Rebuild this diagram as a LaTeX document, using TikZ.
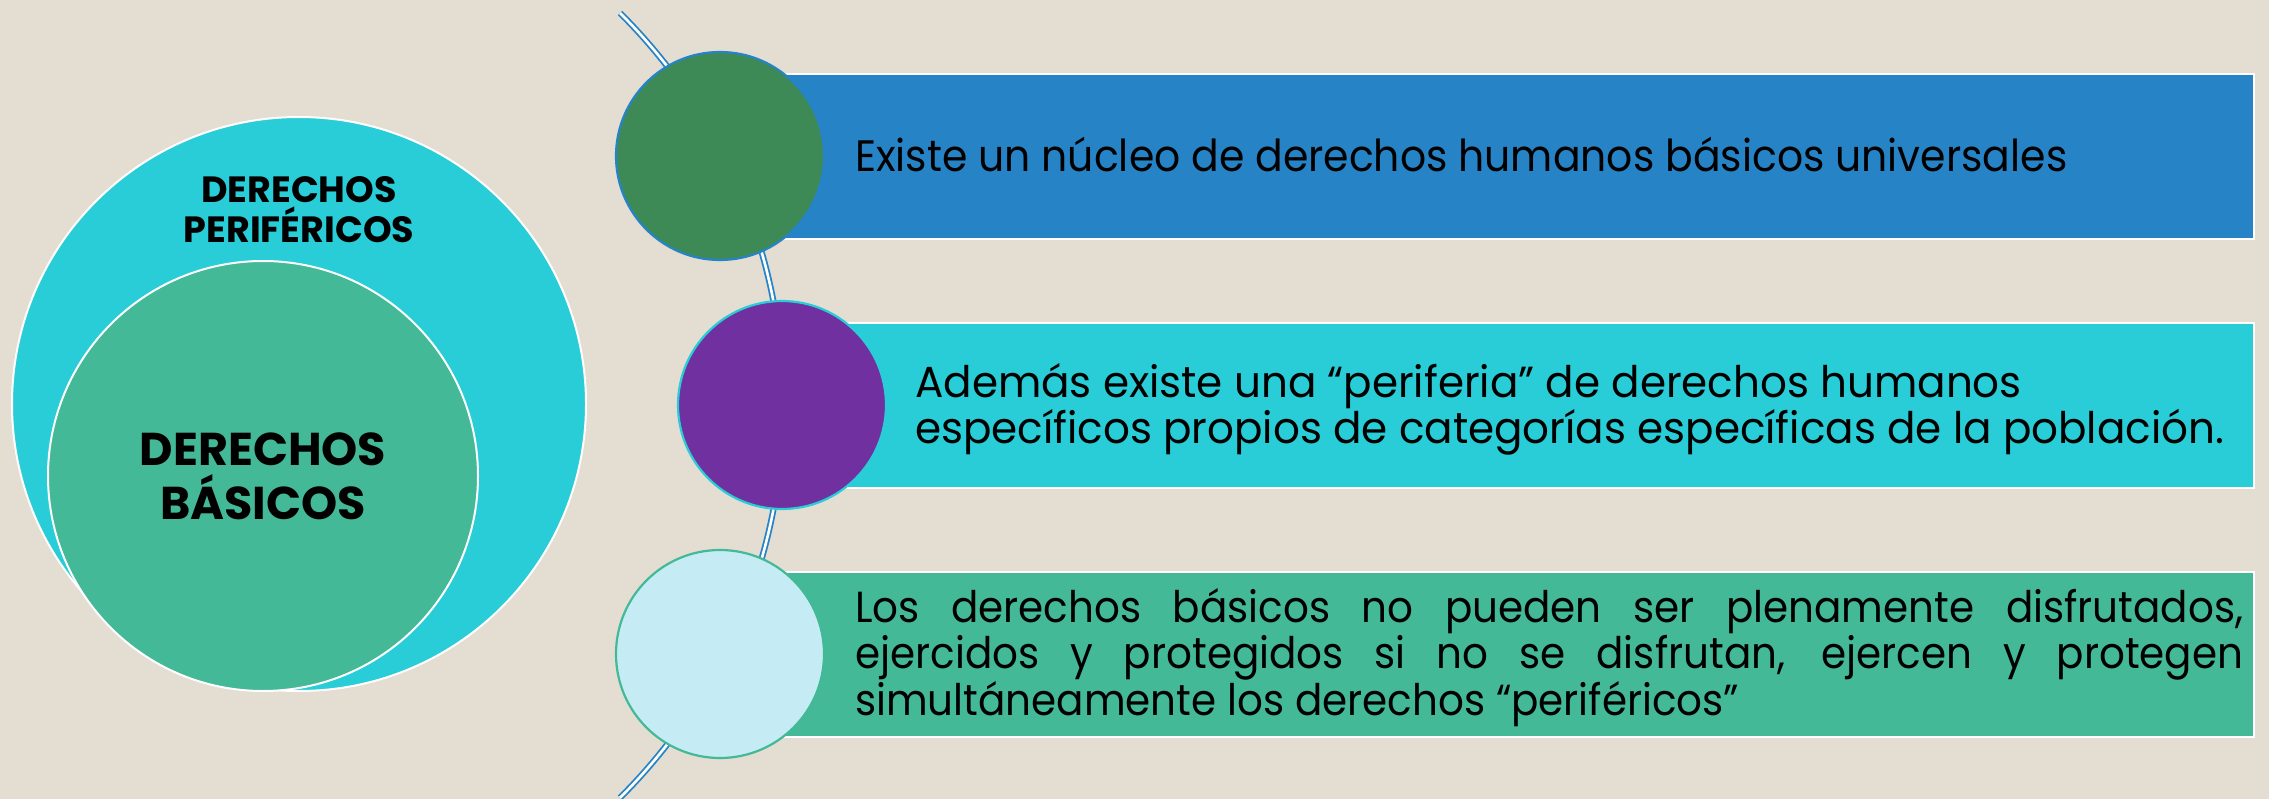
\documentclass[tikz,border=0pt]{standalone}
\usepackage{fontspec}
\setmainfont{Poppins}
\newfontfamily\fonta{Poppins}[FakeStretch=0.93]
\newfontfamily\fontb{Poppins}[FakeStretch=0.967]
\definecolor{bg}{RGB}{227,221,210}
\definecolor{cyanc}{RGB}{40,205,215}
\definecolor{greenc}{RGB}{67,185,151}
\definecolor{bluec}{RGB}{38,131,198}
\definecolor{dgreen}{RGB}{61,138,87}
\definecolor{purp}{RGB}{112,48,160}
\definecolor{lblue}{RGB}{197,236,245}
\begin{document}
\begin{tikzpicture}[x=1pt,y=-1pt,
  bigcirc/.style={circle, draw=white, line width=2pt, inner sep=0},
  dot/.style={circle, line width=2.2pt, inner sep=0, minimum size=208pt},
  band/.style={rectangle, draw=white, line width=1.5pt, inner sep=0, minimum height=165pt, anchor=west},
  txt/.style={inner sep=0, anchor=base west, text=black},
  ctxt/.style={inner sep=0, anchor=base, text=black},
  arcline/.style={draw=bluec, line width=1.8pt, double=white, double distance=2.6pt}]
\fill[bg] (0,0) rectangle (2269,799);
\useasboundingbox (0,0) rectangle (2269,799);
% left circles
\node[bigcirc, fill=cyanc, minimum size=574pt] (outer) at (299,404) {};
\node[bigcirc, fill=greenc, minimum size=430pt] (inner) at (263,476) {};
\node[ctxt] (perif) at (299,203) {\parbox[t]{400pt}{\centering\bfseries\fontsize{36.5}{40}\selectfont DERECHOS\\PERIFÉRICOS}};
\node[ctxt] (basic) at (263,465) {\parbox[t]{400pt}{\centering\bfseries\fontsize{46}{54}\selectfont DERECHOS\\BÁSICOS}};
% arc
\coordinate (arctop) at (620,13);
\draw[arcline] (arctop) arc[start angle=-45.2, end angle=45.2, radius=553];
% bands
\node[band, fill=bluec, minimum width=1533pt] (r1) at (720,156.5) {};
\node[band, fill=cyanc, minimum width=1471pt] (r2) at (782,405.5) {};
\node[band, fill=greenc, minimum width=1533pt] (r3) at (720,654.5) {};
% dots
\node[dot, draw=bluec, fill=dgreen] (c1) at (720,156) {};
\node[dot, draw=cyanc, fill=purp] (c2) at (782,405) {};
\node[dot, draw=greenc, fill=lblue] (c3) at (720,654) {};
% texts
\node[txt] (t1) at (855,172) {\fonta\fontsize{44}{46}\selectfont Existe un núcleo de derechos humanos básicos universales};
\node[txt] (t2) at (915,397) {\parbox[t]{1400pt}{\fontb\fontsize{43.5}{46}\selectfont Además existe una “periferia” de derechos humanos\\específicos propios de categorías específicas de la población.}};
\node[txt] (t3) at (855,622) {\parbox[t]{1388pt}{\fonta\fontsize{43.5}{46.5}\selectfont
\makebox[1388pt][s]{Los derechos básicos no pueden ser plenamente disfrutados,}\\
\makebox[1388pt][s]{ejercidos y protegidos si no se disfrutan, ejercen y protegen}\\
simultáneamente los derechos “periféricos”}};
\end{tikzpicture}
\end{document}
